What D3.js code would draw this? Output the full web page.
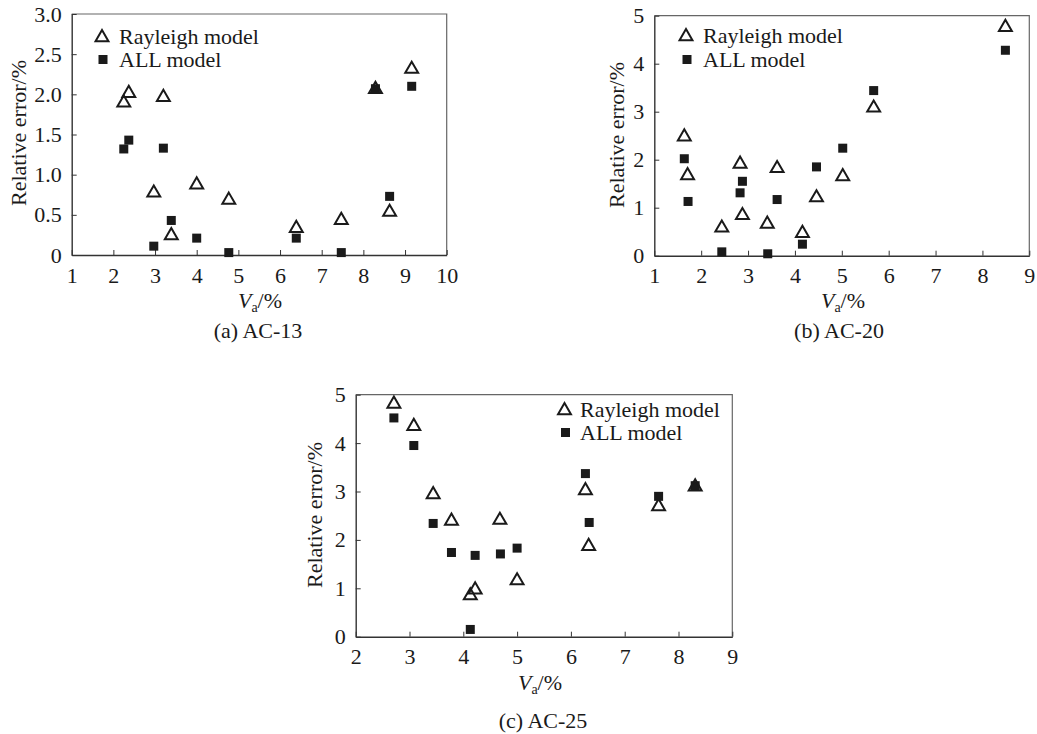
<!DOCTYPE html>
<html>
<head>
<meta charset="utf-8">
<script src="https://cdn.jsdelivr.net/npm/d3@7"></script>
<style>
  html, body { margin: 0; padding: 0; background: #fff; }
  svg { display: block; }
  text { font-family: "Liberation Serif", "Times New Roman", serif; fill: #1a1a1a; }
</style>
</head>
<body>
<svg id="chart" width="1037" height="734"></svg>
<script>
// ---------- DATA ----------
// (a) AC-13
const vaA   = [2.25, 2.37, 3.20, 2.97, 3.39, 4.00, 4.77, 6.39, 7.47, 8.63, 8.29, 9.16];
const rayA  = [1.90, 2.02, 1.97, 0.78, 0.25, 0.88, 0.69, 0.34, 0.44, 0.54, 2.07, 2.32];
const allA  = [1.32, 1.43, 1.33, 0.11, 0.43, 0.21, 0.03, 0.21, 0.03, 0.73, 2.07, 2.10];
// (b) AC-20
const vaB   = [1.64, 1.71, 2.44, 2.83, 2.88, 3.41, 3.62, 4.16, 4.46, 5.02, 5.68, 8.49];
const rayB  = [2.49, 1.68, 0.59, 1.92, 0.85, 0.67, 1.83, 0.48, 1.22, 1.66, 3.09, 4.77];
const allBx = [1.64, 1.72, 2.44, 2.83, 2.88, 3.42, 3.62, 4.16, 4.46, 5.02, 5.68, 8.49];
const allB  = [2.02, 1.13, 0.08, 1.31, 1.55, 0.04, 1.17, 0.24, 1.85, 2.24, 3.44, 4.28];
// (c) AC-25
const vaC   = [2.71, 3.08, 3.44, 3.78, 4.13, 4.22, 4.68, 5.00, 6.27, 6.33, 7.63, 8.31];
const rayC  = [4.82, 4.36, 2.95, 2.40, 0.86, 0.98, 2.42, 1.17, 3.03, 1.88, 2.70, 3.11];
const allCx = [2.71, 3.08, 3.44, 3.78, 4.13, 4.22, 4.69, 5.00, 6.27, 6.34, 7.63, 8.31];
const allC  = [4.52, 3.95, 2.34, 1.74, 0.15, 1.68, 1.71, 1.83, 3.37, 2.36, 2.90, 3.12];

const seriesNames = ["Rayleigh model", "ALL model"];
const captions = ["(a) AC-13", "(b) AC-20", "(c) AC-25"];
const xTicksA = [1,2,3,4,5,6,7,8,9,10];
const xTicksB = [1,2,3,4,5,6,7,8,9];
const xTicksC = [2,3,4,5,6,7,8,9];
const yTicksA = [0, 0.5, 1.0, 1.5, 2.0, 2.5, 3.0];
const yTicksA_labels = ["0", "0.5", "1.0", "1.5", "2.0", "2.5", "3.0"];
const yTicksBC = [0,1,2,3,4,5];

// ---------- LAYOUT ----------
const panels = [
  { box: {l: 71.7, r: 446.7, t: 14, b: 255}, xd: [1,10], yd: [0,3], xt: xTicksA, yt: yTicksA, ytl: yTicksA_labels,
    rx: vaA, ry: rayA, ax: vaA, ay: allA, cap: captions[0],
    leg: {x: 102, y1: 37, y2: 59.5, tx: 119}, ylab: {x: 19, y: 133}, xlab: {x: 260, y: 308}, capPos: {x: 258, y: 338} },
  { box: {l: 654.3, r: 1029.3, t: 15.7, b: 255.7}, xd: [1,9], yd: [0,5], xt: xTicksB, yt: yTicksBC, ytl: yTicksBC.map(String),
    rx: vaB, ry: rayB, ax: allBx, ay: allB, cap: captions[1],
    leg: {x: 686, y1: 36, y2: 59.5, tx: 703}, ylab: {x: 617, y: 135}, xlab: {x: 843, y: 308}, capPos: {x: 839, y: 338} },
  { box: {l: 355.7, r: 732.3, t: 394.7, b: 636.7}, xd: [2,9], yd: [0,5], xt: xTicksC, yt: yTicksBC, ytl: yTicksBC.map(String),
    rx: vaC, ry: rayC, ax: allCx, ay: allC, cap: captions[2],
    leg: {x: 564.5, y1: 410, y2: 432.5, tx: 580}, ylab: {x: 315, y: 515}, xlab: {x: 540, y: 690}, capPos: {x: 543, y: 728} }
];

const svg = d3.select("#chart");
const FS = 22;
const triSize = 72;   // area of triangle symbol
const sq = 9;

function tri(g, x, y) {
  g.append("path")
    .attr("d", d3.symbol().type(d3.symbolTriangle).size(triSize)())
    .attr("transform", `translate(${x},${y + 0.5})`)
    .attr("fill", "none").attr("stroke", "#1a1a1a").attr("stroke-width", 2)
    .attr("stroke-linejoin", "miter");
}
function square(g, x, y) {
  g.append("rect").attr("x", x - sq/2).attr("y", y - sq/2).attr("width", sq).attr("height", sq)
    .attr("fill", "#1a1a1a");
}

panels.forEach(p => {
  const g = svg.append("g");
  const x = d3.scaleLinear().domain(p.xd).range([p.box.l, p.box.r]);
  const y = d3.scaleLinear().domain(p.yd).range([p.box.b, p.box.t]);

  // frame (top & right)
  g.append("path")
    .attr("d", `M${p.box.l},${p.box.t}H${p.box.r}V${p.box.b}`)
    .attr("fill", "none").attr("stroke", "#666").attr("stroke-width", 1.2);

  // x axis (ticks inward)
  const xa = g.append("g").attr("transform", `translate(0,${p.box.b})`)
    .call(d3.axisBottom(x).tickValues(p.xt).tickSizeInner(-5).tickSizeOuter(0).tickFormat(d3.format("d")).tickPadding(12));
  xa.select(".domain").attr("stroke", "#333").attr("stroke-width", 1.4);
  xa.selectAll(".tick line").attr("stroke", "#333").attr("stroke-width", 1);
  xa.selectAll(".tick text").attr("font-size", FS).attr("font-family", "Liberation Serif").attr("fill", "#1a1a1a");

  // y axis (ticks inward)
  const ya = g.append("g").attr("transform", `translate(${p.box.l},0)`)
    .call(d3.axisLeft(y).tickValues(p.yt).tickSizeInner(-5).tickSizeOuter(0)
      .tickFormat((d, i) => p.ytl[i]).tickPadding(10));
  ya.select(".domain").attr("stroke", "#333").attr("stroke-width", 1.4);
  ya.selectAll(".tick line").attr("stroke", "#333").attr("stroke-width", 1);
  ya.selectAll(".tick text").attr("font-size", FS).attr("font-family", "Liberation Serif").attr("fill", "#1a1a1a");

  // data marks: Rayleigh (open triangle), ALL (filled square)
  p.ax.forEach((v, i) => square(g, x(v), y(p.ay[i])));
  p.rx.forEach((v, i) => tri(g, x(v), y(p.ry[i])));

  // legend
  tri(g, p.leg.x, p.leg.y1);
  g.append("text").attr("x", p.leg.tx).attr("y", p.leg.y1 + 7).attr("font-size", FS).text(seriesNames[0]);
  square(g, p.leg.x + 1, p.leg.y2);
  g.append("text").attr("x", p.leg.tx).attr("y", p.leg.y2 + 7).attr("font-size", FS).text(seriesNames[1]);

  // y label
  g.append("text").attr("transform", `translate(${p.ylab.x + 7},${p.ylab.y}) rotate(-90)`)
    .attr("text-anchor", "middle").attr("font-size", FS).text("Relative error/%");

  // x label  V_a/%
  const xl = g.append("text").attr("x", p.xlab.x).attr("y", p.xlab.y).attr("text-anchor", "middle").attr("font-size", FS);
  xl.append("tspan").attr("font-style", "italic").text("V");
  xl.append("tspan").attr("font-size", 14).attr("dy", 4).text("a");
  xl.append("tspan").attr("dy", -4).text("/%");

  // caption
  g.append("text").attr("x", p.capPos.x).attr("y", p.capPos.y).attr("text-anchor", "middle")
    .attr("font-size", FS).text(p.cap);
});
</script>
</body>
</html>
